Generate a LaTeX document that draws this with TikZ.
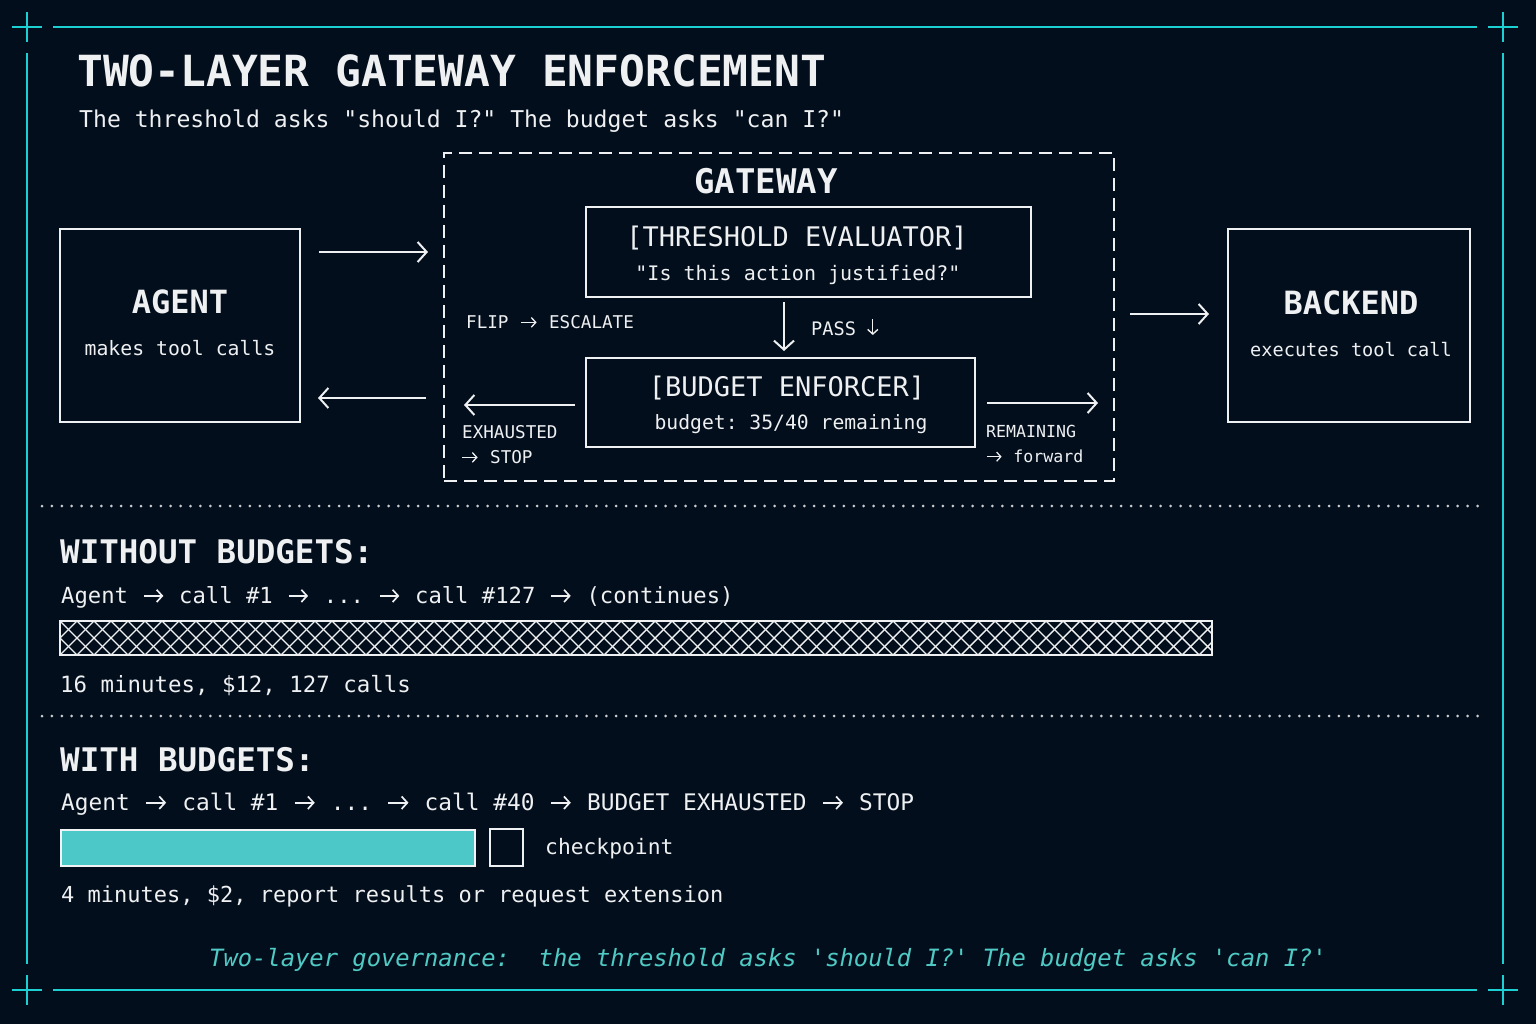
\documentclass[tikz,border=0pt]{standalone}
\usepackage{fontspec}
\setmonofont{DejaVu Sans Mono}
\usetikzlibrary{arrows.meta}
\definecolor{bg}{HTML}{030E1C}
\definecolor{frameteal}{HTML}{1CCFD2}
\definecolor{barteal}{HTML}{4BC8C7}
\definecolor{fg}{HTML}{EEF0F2}
\definecolor{foot}{HTML}{4FCAC4}
\definecolor{dotgray}{HTML}{C8CCD0}
\newcommand\myfs[1]{\fontsize{#1}{#1}\selectfont}
\newcommand\dq{\char34\relax}
\newcommand\sq{\char39\relax}
\newcommand\rarr{\makebox[1.1em][c]{\tikz[baseline={(0pt,-0.32em)}]\draw[fg,line width=0.075em,-{Straight Barb[length=0.25em,width=0.55em,line width=0.075em]}] (0pt,0pt) -- (0.88em,0pt);}}
\newcommand\darr{\makebox[0.602em][c]{\tikz[baseline={(0pt,-0.05em)}]\draw[fg,line width=0.075em,-{Straight Barb[length=0.25em,width=0.55em,line width=0.075em]}] (0pt,0.8em) -- (0pt,-0.05em);}}
\begin{document}
\begin{tikzpicture}[x=1pt,y=-1pt,
  txt/.style={text=fg,inner sep=0pt,font=\ttfamily\frenchspacing},
  boxw/.style={draw=fg,line width=2pt,inner sep=0pt},
  arr/.style={draw=fg,line width=2pt,-{Straight Barb[length=9pt,width=20pt,line width=2pt]}},
  frame/.style={draw=frameteal,line width=2.2pt},
  dotsep/.style={draw=dotgray,line width=3pt,line cap=round,dash pattern=on 0pt off 9.9pt}]
\useasboundingbox (0,0) rectangle (1536,1024);
\fill[bg] (0,0) rectangle (1536,1024);
% frame
\draw[frame] (53,27) -- (1477,27);
\draw[frame] (53,990) -- (1477,990);
\draw[frame] (27,53) -- (27,964);
\draw[frame] (1503,53) -- (1503,964);
\foreach \cx/\cy in {27/27,1503/27,27/990,1503/990}{
  \draw[frame] (\cx-15,\cy) -- (\cx+15,\cy);
  \draw[frame] (\cx,\cy-15) -- (\cx,\cy+15);
}
% title
\node[txt,anchor=base west] (title) at (77,87) {\myfs{42.9}\bfseries TWO-LAYER GATEWAY ENFORCEMENT};
\node[txt,anchor=base west] (subtitle) at (79,128) {\myfs{23.1}The threshold asks \dq should I?\dq\ The budget asks \dq can I?\dq};
% gateway
\node[draw=fg,line width=2pt,dash pattern=on 13pt off 7pt,minimum width=670pt,minimum height=328pt,inner sep=0pt] (gateway) at (779,317) {};
\node[txt,anchor=base] (gwlabel) at (766,194) {\myfs{34}\bfseries GATEWAY};
\node[boxw,minimum width=445pt,minimum height=90pt] (threshold) at (808.5,252) {};
\node[txt,anchor=base] (thrt) at (797,247) {\myfs{27}[THRESHOLD EVALUATOR]};
\node[txt,anchor=base] (thrs) at (798,280) {\myfs{20}\dq Is this action justified?\dq};
\node[boxw,minimum width=389pt,minimum height=89pt] (budget) at (780.5,402.5) {};
\node[txt,anchor=base] (budt) at (787,396) {\myfs{27}[BUDGET ENFORCER]};
\node[txt,anchor=base] (buds) at (791,429) {\myfs{19.7}budget: 35/40 remaining};
\node[txt,anchor=base west] (flip) at (466,328) {\myfs{17.6}FLIP \rarr\ ESCALATE};
\node[txt,anchor=base west] (pass) at (811,335) {\myfs{18.6}PASS \darr};
\node[txt,anchor=base west] (exh1) at (462,438) {\myfs{17.6}EXHAUSTED};
\node[txt,anchor=base west] (exh2) at (460,463) {\myfs{17.6}\rarr\ STOP};
\node[txt,anchor=base west] (rem1) at (986,437) {\myfs{16.6}REMAINING};
\node[txt,anchor=base west] (rem2) at (985,462) {\myfs{16.6}\rarr\ forward};
\coordinate (pa) at (784,302);
\coordinate (pb) at (784,351);
\draw[arr] (pa) -- (pb);
\coordinate (ea) at (575,405);
\coordinate (eb) at (464,405);
\draw[arr] (ea) -- (eb);
\coordinate (ra) at (987,403);
\coordinate (rb) at (1098,403);
\draw[arr] (ra) -- (rb);
% agent and backend
\node[boxw,minimum width=240pt,minimum height=193pt] (agent) at (180,325.5) {};
\node[txt,anchor=base] (agt) at (180,313) {\myfs{32}\bfseries AGENT};
\node[txt,anchor=base] (ags) at (180,355) {\myfs{19.8}makes tool calls};
\node[boxw,minimum width=242pt,minimum height=193pt] (backend) at (1349,325.5) {};
\node[txt,anchor=base] (bkt) at (1351,314) {\myfs{32}\bfseries BACKEND};
\node[txt,anchor=base] (bks) at (1351,356) {\myfs{18.6}executes tool call};
\coordinate (a1) at (319,252);
\coordinate (a2) at (428,252);
\draw[arr] (a1) -- (a2);
\coordinate (b1) at (426,398);
\coordinate (b2) at (318,398);
\draw[arr] (b1) -- (b2);
\coordinate (c1) at (1130,314);
\coordinate (c2) at (1209,314);
\draw[arr] (c1) -- (c2);
% separators
\draw[dotsep] (42,506) -- (1486,506);
\draw[dotsep] (42,716) -- (1486,716);
% without budgets
\node[txt,anchor=base west] (wo) at (60,563) {\myfs{32.5}\bfseries WITHOUT BUDGETS:};
\node[txt,anchor=base west] (woflow) at (61,603) {\myfs{22.2}Agent \rarr\ call \#1 \rarr\ ... \rarr\ call \#127 \rarr\ (continues)};
\begin{scope}
\clip (60,621) rectangle (1212,655);
\foreach \k in {-3,...,70}{
  \draw[fg,line width=1.4pt] (60+17*\k,621) -- ++(34,34);
  \draw[fg,line width=1.4pt] (94+17*\k,621) -- ++(-34,34);
}
\end{scope}
\node[boxw,minimum width=1152pt,minimum height=34pt] (hatchbar) at (636,638) {};
\node[txt,anchor=base west] (wostat) at (60,692) {\myfs{22.4}16 minutes, \$12, 127 calls};
% with budgets
\node[txt,anchor=base west] (wi) at (60,771) {\myfs{32.5}\bfseries WITH BUDGETS:};
\node[txt,anchor=base west] (wiflow) at (61,810) {\myfs{22.8}Agent \rarr\ call \#1 \rarr\ ... \rarr\ call \#40 \rarr\ BUDGET EXHAUSTED \rarr\ STOP};
\node[draw=fg!85,line width=1.5pt,fill=barteal,minimum width=414pt,minimum height=36pt,inner sep=0pt] (tealbar) at (268,848) {};
\node[boxw,minimum width=33pt,minimum height=37pt] (chk) at (506.5,847.5) {};
\node[txt,anchor=base west] (chkt) at (545,854) {\myfs{21.3}checkpoint};
\node[txt,anchor=base west] (wistat) at (61,902) {\myfs{22}4 minutes, \$2, report results or request extension};
% footer
\node[txt,text=foot,anchor=base] (footer) at (768,966) {\myfs{23.8}\itshape Two-layer governance:\ \ the threshold asks \sq should I?\sq\ The budget asks \sq can I?\sq};
\end{tikzpicture}
\end{document}
